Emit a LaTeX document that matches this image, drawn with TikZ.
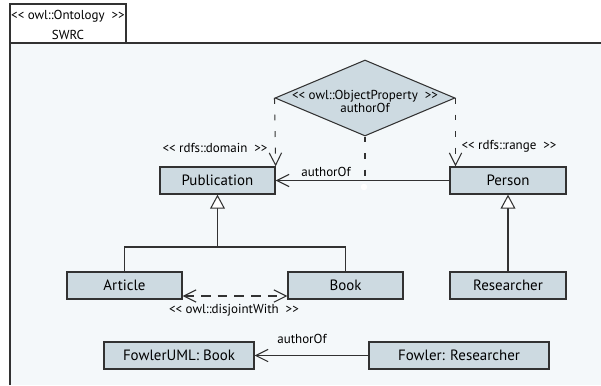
\documentclass[tikz,border=0pt]{standalone}
\usepackage{fontspec}
\setmainfont{PT Sans}
\usepackage{tikz}
\usetikzlibrary{arrows.meta,shapes.geometric}
\definecolor{framebg}{RGB}{244,248,250}
\definecolor{classbg}{RGB}{205,218,225}
\definecolor{umlline}{RGB}{50,50,50}

\begin{document}
\begin{tikzpicture}[x=0.02cm,y=-0.02cm,
  classbox/.style={draw=umlline, line width=0.75pt, fill=classbg, minimum height=0.54cm, inner sep=0pt, font=\fontsize{8.5}{10}\selectfont},
  tag/.style={inner sep=0pt, font=\fontsize{7.4}{7.6}\selectfont},
  assoc/.style={draw=umlline, line width=0.6pt, -{Straight Barb[length=7pt,width=7pt]}},
  depend/.style={assoc, dash pattern=on 3.4pt off 6pt},
  disjoint/.style={assoc, {Straight Barb[length=7pt,width=7pt]}-{Straight Barb[length=7pt,width=7pt]}, dash pattern=on 5.5pt off 4pt},
  inherit/.style={draw=umlline, line width=0.6pt, -{Triangle[length=8pt,width=8.5pt,fill=white]}}]
  \useasboundingbox (0,0) rectangle (601,385);

  % Ontology frame and its tab
  \fill[framebg] (10,43) rectangle (601,385);
  \draw[umlline, line width=0.6pt] (10,385) |- (601,43);
  \draw[umlline, line width=0.6pt, fill=white] (10,4) rectangle (126,43);
  \node[tag] (ontotype) at (68,16) {<{}< owl::Ontology~ >{}>};
  \node[tag] (ontoname) at (68,35) {SWRC};

  % Object property
  \node[draw=umlline, line width=0.6pt, fill=classbg, diamond, minimum width=3.6cm, minimum height=1.52cm, inner sep=0pt] (prop) at (365,98) {};
  \node[tag, align=center] (propname) at (365,101.5) {<{}< owl::ObjectProperty~ >{}>\\authorOf};

  % Classes
  \node[classbox, minimum width=2.3cm] (publication) at (217.5,180.5) {Publication};
  \node[classbox, minimum width=2.32cm] (person) at (508,180.5) {Person};
  \node[classbox, minimum width=2.3cm] (article) at (124.5,285.5) {Article};
  \node[classbox, minimum width=2.3cm] (book) at (345.5,285.5) {Book};
  \node[classbox, minimum width=2.32cm] (researcher) at (508,285.5) {Researcher};

  % Individuals
  \node[classbox, minimum width=3.0cm] (fowlerbook) at (179,355.5) {FowlerUML: Book};
  \node[classbox, minimum width=3.6cm] (fowler) at (459,355.5) {Fowler: Researcher};

  % Domain and range
  \draw[depend] (prop.west) -- (publication.north east);
  \draw[depend] (prop.east) -- (prop.east |- person.north);
  \node[tag] (domaintag) at (215,148) {<{}< rdfs::domain~ >{}>};
  \node[tag] (rangetag) at (509,146) {<{}< rdfs::range~ >{}>};

  % authorOf association
  \draw[assoc] (person.west) -- (publication.east);
  \node[tag] (authorlabel) at (326,172) {authorOf};
  \coordinate (attach) at (365,180);
  \draw[umlline, line width=0.6pt, dash pattern=on 3.4pt off 6pt] (prop.south) -- (attach);
  \node[circle, fill=white, inner sep=0pt, minimum size=0.13cm] (attachdot) at (364,187) {};

  % Subclasses
  \coordinate (fork) at (217.5,247);
  \draw[inherit] (article.north) |- (fork) -- (publication.south);
  \draw[umlline, line width=0.6pt] (book.north) |- (fork);
  \draw[inherit] (researcher.north) -- (person.south);

  % Disjoint classes
  \draw[disjoint] ([yshift=-0.21cm]article.east) -- ([yshift=-0.21cm]book.west);
  \node[tag] (disjointtag) at (234,310) {<{}< owl::disjointWith~ >{}>};

  % Instance link
  \draw[assoc] (fowler.west) -- (fowlerbook.east);
  \node[tag] (instlabel) at (302,339) {authorOf};
\end{tikzpicture}
\end{document}
